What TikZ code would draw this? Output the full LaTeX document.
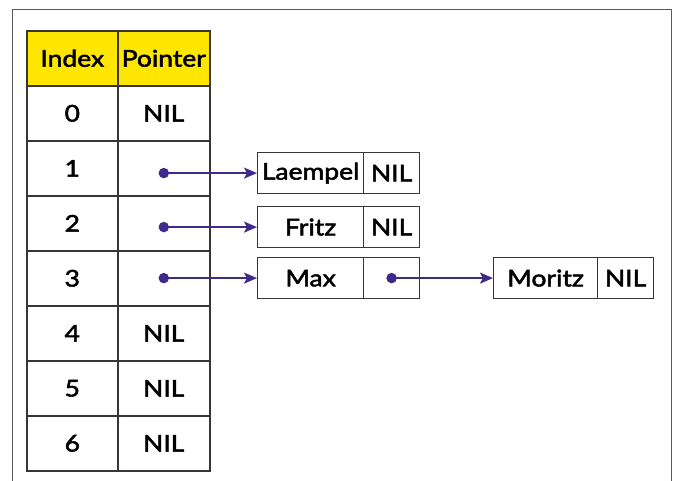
\documentclass[tikz,border=0pt]{standalone}
\usepackage{fontspec}
\setmainfont{Lato}[FakeStretch=1.15, FakeBold=2.2]
\usetikzlibrary{arrows.meta}
\definecolor{gridline}{HTML}{3A3434}
\definecolor{headfill}{HTML}{FFE600}
\definecolor{ptrcol}{HTML}{3D2A8A}
\definecolor{framecol}{HTML}{5A5A5A}
\tikzset{
  labelfont/.style={font=\fontsize{23}{26}\selectfont},
  cell/.style={draw=gridline, line width=1.6pt, minimum height=55pt, inner sep=0pt,
    labelfont, anchor=north west},
  idxcell/.style={cell, minimum width=91pt},
  ptrcell/.style={cell, minimum width=92pt},
  head/.style={fill=headfill},
  lbox/.style={draw=gridline, line width=1.2pt, minimum height=41pt, inner sep=0pt,
    labelfont, anchor=north west},
  valbox/.style={lbox, minimum width=106pt},
  nextbox/.style={lbox, minimum width=56pt},
  ptr/.style={draw=ptrcol, line width=2.1pt, -{Stealth[length=13pt,width=11pt,inset=3pt]}},
  ptrdot/.style={circle, fill=ptrcol, inner sep=0pt, minimum size=10.5pt},
}
\begin{document}
\begin{tikzpicture}[x=1pt,y=-1pt]
\useasboundingbox (0,0) rectangle (680,481);
% outer frame, open at the bottom
\draw[framecol, line width=1pt] (12,481) -- (12,10) -- (671,10) -- (671,481);

% hash table
\node[idxcell, head] (hi) at (26,30) {Index};
\node[ptrcell, head] (hp) at (117,30) {Pointer};
\foreach \r/\p in {0/NIL,1/,2/,3/,4/NIL,5/NIL,6/NIL} {
  \node[idxcell] (i\r) at (26,{85+55*\r}) {\r};
  \node[ptrcell] (p\r) at (117,{85+55*\r}) {\p};
}

% list elements
\node[valbox] (lae) at (257,152) {Laempel};
\node[nextbox] (laen) at (363,152) {NIL};
\node[valbox] (fri) at (257,206) {Fritz};
\node[nextbox] (frin) at (363,206) {NIL};
\node[valbox] (max) at (257,257) {Max};
\node[nextbox] (maxn) at (363,257) {};
\node[valbox, minimum width=104pt] (mor) at (493,257) {Moritz};
\node[nextbox] (morn) at (597,257) {NIL};

% pointers: each dot sits level with the element it points to
\node[ptrdot] (d1) at (p1.center |- lae.west) {};
\node[ptrdot] (d2) at (p2.center |- fri.west) {};
\node[ptrdot] (d3) at (p3.center |- max.west) {};
\node[ptrdot] (d4) at (maxn.center) {};
\draw[ptr] (d1.center) -- (lae.west);
\draw[ptr] (d2.center) -- (fri.west);
\draw[ptr] (d3.center) -- (max.west);
\draw[ptr] (d4.center) -- (mor.west);
\end{tikzpicture}
\end{document}
